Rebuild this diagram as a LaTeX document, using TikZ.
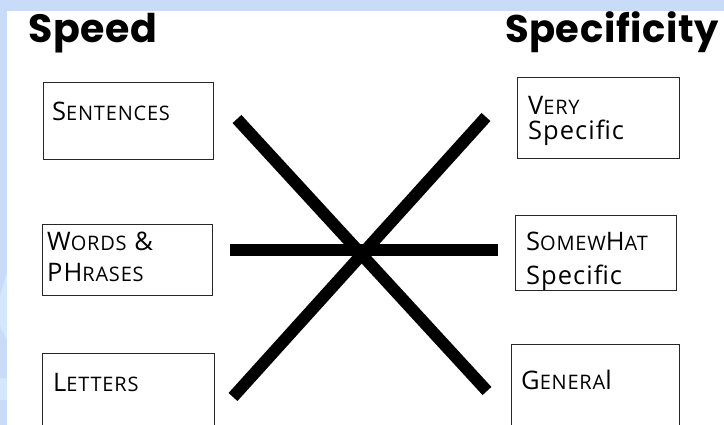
\documentclass[tikz,border=0pt]{standalone}
\usepackage{fontspec}
\newfontfamily\headfont{Poppins}[LetterSpace=1.5]
\newfontfamily\boxfont{Open Sans}[LetterSpace=4]
\definecolor{paneblue}{HTML}{C8DCFA}
\definecolor{paneglow}{HTML}{D5E7FC}
% lower-case letters set as smaller capitals
\newcommand\lowcap[1]{{\fontsize{20}{22}\selectfont #1}}
\tikzset{
  heading/.style={anchor=base west, inner sep=0, font=\headfont\bfseries\fontsize{39.5}{42}\selectfont},
  boxframe/.style={draw=black!85, line width=1pt, anchor=north west, inner sep=0},
  boxtext/.style={anchor=base west, inner sep=0, font=\boxfont\fontsize{25.5}{27}\selectfont},
  crossbar/.style={line width=12pt, black, line cap=butt}
}
\begin{document}
\begin{tikzpicture}[x=1pt,y=-1pt]
\useasboundingbox (0,0) rectangle (724,425);
\clip (0,0) rectangle (724,425);
% backdrop
\fill[paneblue] (0,0) rectangle (724,425);
\fill[paneglow] (7,272) -- (0,296) -- (0,326) -- (7,340) -- cycle;
\fill[paneglow] (0,378) rectangle (7,400);
\fill[white] (7,11) rectangle (724,425);

% headings
\node[heading] (speed) at (28,43) {Speed};
\node[heading, anchor=base east, font=\headfont\bfseries\fontsize{38.5}{41}\selectfont] (spec) at (719,43) {Specificity};

% left column boxes
\node[boxframe, minimum width=170pt, minimum height=77pt] (sent) at (43,82) {};
\node[boxframe, minimum width=170pt, minimum height=71pt] (words) at (42,224) {};
\node[boxframe, minimum width=172pt, minimum height=100pt] (lett) at (42,353) {};
% right column boxes
\node[boxframe, minimum width=162pt, minimum height=81pt] (very) at (517,77) {};
\node[boxframe, minimum width=161pt, minimum height=75pt] (some) at (515,215) {};
\node[boxframe, minimum width=168pt, minimum height=100pt] (gen) at (511,344) {};

% box labels
\node[boxtext] (sentT) at (52,121) {S\lowcap{ENTENCES}};
\node[boxtext] (wordsT) at (47,251) {W\lowcap{ORDS} \&};
\node[boxtext] (phrT) at (47,282) {PH\lowcap{RASES}};
\node[boxtext] (lettT) at (53,391) {L\lowcap{ETTERS}};
\node[boxtext] (veryT) at (528,115) {V\lowcap{ERY}};
\node[boxtext] (veryS) at (528,140) {Specif{}ic};
\node[boxtext] (someT) at (526,251) {S\lowcap{OMEW}H\lowcap{AT}};
\node[boxtext] (someS) at (526,284) {Specif{}ic};
\node[boxtext] (genT) at (521,389) {G\lowcap{ENERA}l};

% the cross of bars
\coordinate (d1a) at (237,119);
\coordinate (d1b) at (487,391);
\coordinate (d2a) at (233,397);
\coordinate (d2b) at (486,117);
\coordinate (ha) at (230,250);
\coordinate (hb) at (498,250);
\draw[crossbar] (d1a) -- (d1b);
\draw[crossbar] (d2a) -- (d2b);
\draw[crossbar] (ha) -- (hb);
\end{tikzpicture}
\end{document}
